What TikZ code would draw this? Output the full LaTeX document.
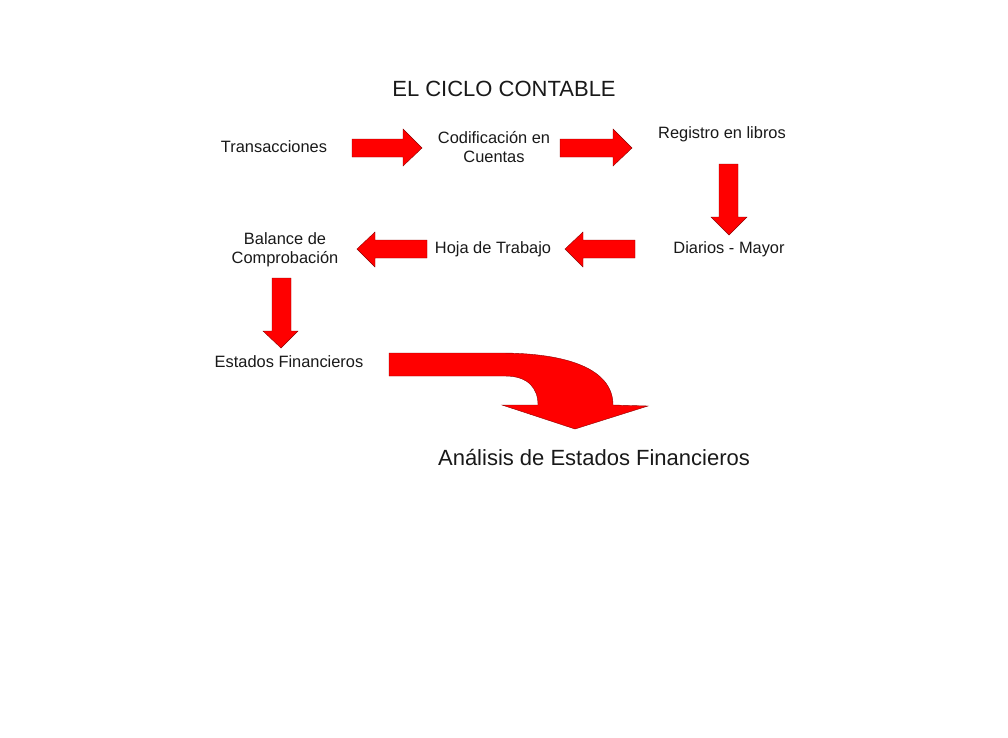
\documentclass[tikz,border=0pt]{standalone}
\usepackage{fontspec}
\setmainfont{Liberation Sans}
\begin{document}
\begin{tikzpicture}[x=1pt,y=-1pt,
  lbl/.style={font=\fontsize{16.4}{19.5}\selectfont, align=center, inner sep=0pt, text=black!90},
  big/.style={font=\fontsize{22}{26}\selectfont, inner sep=0pt, text=black!90},
  blk/.style={fill=red, draw=red!55!black, line width=0.4pt, line join=miter}]
\useasboundingbox[fill=white] (0,0) rectangle (1008,737);

\node[big] (title) at (504,89) {EL CICLO CONTABLE};
\node[lbl] (trans) at (274,147) {Transacciones};
\node[lbl] (codif) at (494,147) {Codificación en\\Cuentas};
\node[lbl] (regis) at (722,134) {Registro en libros};
\node[lbl] (diar) at (729,249) {Diarios - Mayor};
\node[lbl] (hoja) at (493,249) {Hoja de Trabajo};
\node[lbl] (bal) at (285,250) {Balance de\\Comprobación};
\node[lbl] (est) at (289,362) {Estados Financieros};
\node[big] (anal) at (594,457) {Análisis de Estados Financieros};

% right arrows
\draw[blk] (352,139) -- (403,139) -- (403,129) -- (422,148) -- (403,166) -- (403,157) -- (352,157) -- cycle;
\draw[blk] (560,139) -- (613,139) -- (613,129) -- (632,148) -- (613,166) -- (613,157) -- (560,157) -- cycle;
% down arrow
\draw[blk] (719,164) -- (738,164) -- (738,217) -- (747,217) -- (729,235) -- (711,217) -- (719,217) -- cycle;
% left arrows
\draw[blk] (635,240) -- (583,240) -- (583,232) -- (565,249) -- (583,267) -- (583,258) -- (635,258) -- cycle;
\draw[blk] (427,240) -- (375,240) -- (375,232) -- (357,249) -- (375,267) -- (375,258) -- (427,258) -- cycle;
% down arrow
\draw[blk] (272,278) -- (291,278) -- (291,331) -- (298,331) -- (281,348) -- (263,331) -- (272,331) -- cycle;
% curved arrow
\draw[blk] (389,353) -- (500,353) .. controls (570,353) and (613,370) .. (613,405)
  -- (648,406) -- (575,429) -- (502,405) -- (538,405)
  .. controls (538,388) and (528,376) .. (505,376) -- (389,376) -- cycle;
\end{tikzpicture}
\end{document}
